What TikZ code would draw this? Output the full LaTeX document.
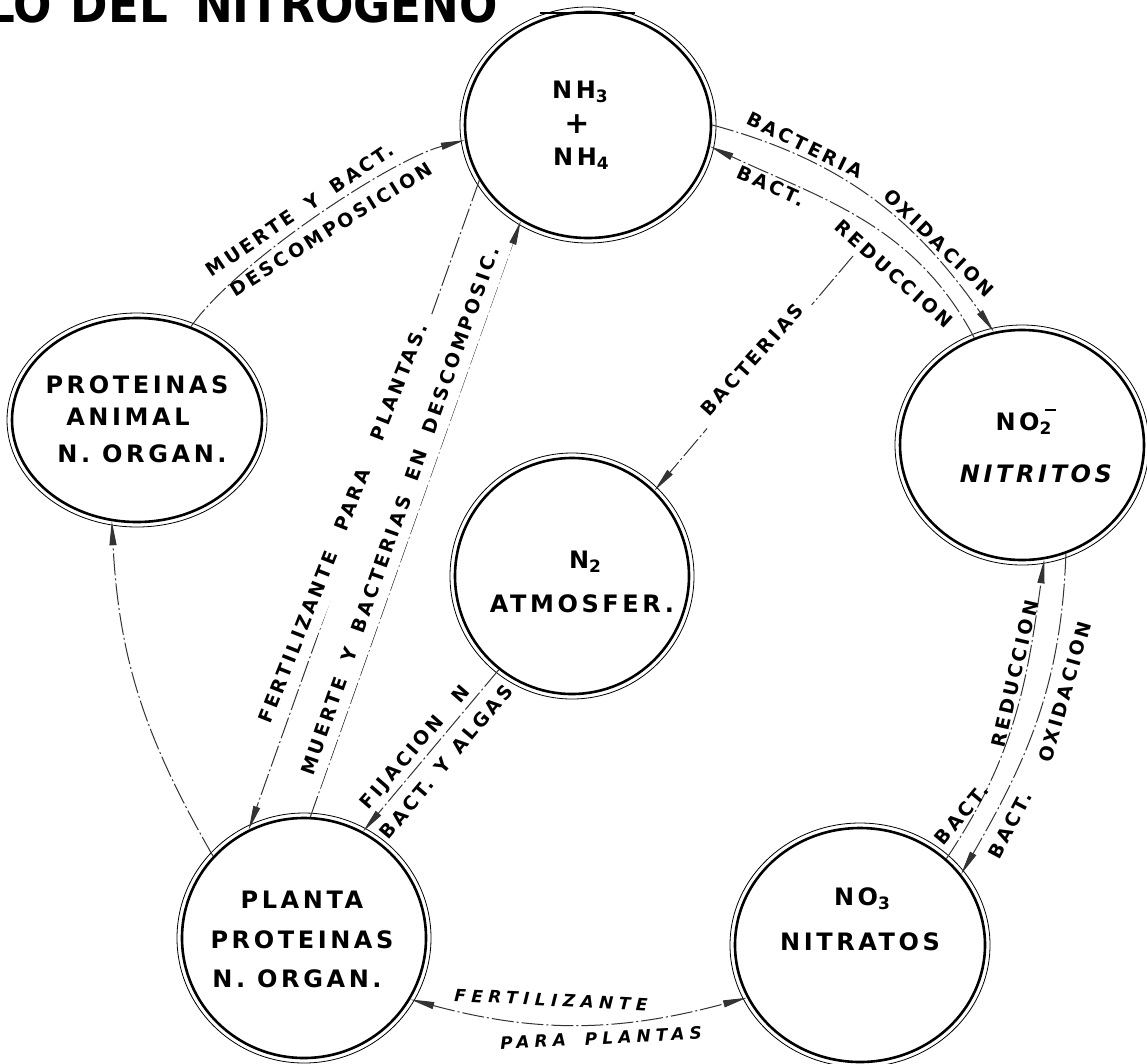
\documentclass[tikz,border=0pt]{standalone}
\usepackage{fontspec}
\setmainfont{DejaVu Sans}
\newfontfamily\LF{DejaVu Sans}[UprightFont=* Bold, ItalicFont=* Bold Oblique]
\usetikzlibrary{arrows.meta,shapes.geometric}
\newcommand\lsf[3]{\LF\fontsize{#1pt}{#1pt}\selectfont\addfontfeature{LetterSpace=#2}#3}
\newcommand\sbs[1]{\raisebox{-4pt}{\fontsize{17pt}{17pt}\selectfont#1}}
\newcommand\bubble[4]{%
  \node[bub, minimum width={2*#3pt}, minimum height={2*#4pt}] (#1) at (#2) {};
  \draw[ring] (#1.center) ellipse [x radius={#3pt+5pt}, y radius={#4pt+5pt}];}
\tikzset{
  bub/.style={ellipse, draw, line width=2.6pt, inner sep=0pt},
  ring/.style={line width=0.8pt},
  ct/.style={inner sep=0pt, anchor=base, font=\lsf{24}{15}{}},
  cl/.style={inner sep=1.5pt, font=\lsf{19}{16}{}},
  conn/.style={draw=black!80, line width=1pt, dash pattern=on 22pt off 3pt on 2pt off 3pt},
  >={Triangle[length=24pt,width=7pt]},
  ttl/.style={anchor=base east, inner sep=0pt, font=\LF\fontsize{43pt}{43pt}\selectfont},
}
\begin{document}
\begin{tikzpicture}[x=1pt, y=-1pt]
\useasboundingbox (0,0) rectangle (1147,1063);
\fill[white] (0,0) rectangle (1147,1063);
\clip (0,0) rectangle (1147,1063);

% title (cut off at the top)
\node[ttl] (t1) at (52,22) {\scalebox{1.05}[1.15]{CICLO}};
\node[ttl] (t2) at (168,22) {\scalebox{1.05}[1.15]{DEL}};
\node[ttl] (t3) at (498,22) {\scalebox{1.05}[1.15]{NITROGENO}};
\draw[line width=2.5pt] (540,13) -- (635,13);

% circles
\bubble{nh}{588,125}{123}{113}
\bubble{pa}{137,420}{125}{102}
\bubble{pl}{304,938}{122}{120}
\bubble{no}{1022,445}{122}{115}
\bubble{nt}{860,945}{125}{117}
\bubble{na}{572,576}{117}{118}

% circle texts
\node[ct] (nhA) at (580,98) {NH\sbs{3}};
\node[ct, anchor=center, font=\lsf{30}{0}{}] (nhB) at (577,124) {+};
\node[ct] (nhC) at (581,165) {NH\sbs{4}};
\node[ct] (paA) at (137,393) {PROTEINAS};
\node[ct] (paB) at (128,425) {ANIMAL};
\node[ct] (paC) at (142,462) {N. ORGAN.};
\node[ct] (plA) at (302,908) {PLANTA};
\node[ct] (plB) at (302,948) {PROTEINAS};
\node[ct] (plC) at (297,987) {N. ORGAN.};
\node[ct] (noA) at (1026,430) {NO\sbs{2}\hspace{-6pt}\raisebox{19pt}{\rule{11pt}{2.4pt}}};
\node[ct] (noB) at (1036,482) {\itshape NITRITOS};
\node[ct] (naA) at (585,568) {N\sbs{2}};
\node[ct] (naB) at (582,612) {ATMOSFER.};
\node[ct] (ntA) at (862,905) {NO\sbs{3}};
\node[ct] (ntB) at (860,950) {NITRATOS};

% connectors
\draw[conn,->] (pa.60) to[out=55,in=195,looseness=0.6] (nh.187);
\draw[conn,->] (nh.0) to[out=-15,in=125] (no.104);
\draw[conn,->] (no.114) to[out=118,in=-25] (nh.350);
\coordinate (bs) at (853,256);
\draw[conn,->] (bs) -- (na.46);
\draw[conn,->] (nh.207) -- (pl.117);
\draw[conn,->] (pl.87) -- (nh.235);
\draw[conn,->] (na.232) -- (pl.61);
\draw[conn,->] (pl.138) to[out=120,in=-87] (pa.256);
\draw[conn,->] (no.292) to[out=-92,in=60] (nt.35);
\draw[conn,->] (nt.45) to[out=56,in=-98] (no.281);
\draw[conn,<->] (pl.330) to[out=-15,in=195] (nt.205);

% connector labels
\node[cl, rotate=34] (l1) at (300,210) {MUERTE\hspace{7pt} Y\hspace{7pt} BACT.};
\node[cl, rotate=32] (l2) at (331,229) {DESCOMPOSICION};
\node[cl, rotate=-26] (l3) at (805,145) {BACTERIA};
\node[cl, rotate=-44] (l4) at (939,243) {OXIDACION};
\node[cl, rotate=-24] (l5) at (771,186) {BACT.};
\node[cl, rotate=-42] (l6) at (894,274) {REDUCCION};
\node[cl, rotate=48, fill=white, inner sep=9pt] (l7) at (752,360) {BACTERIAS};
\node[cl, rotate=68.5, fill=white, inner sep=10pt] (l8) at (343,523) {FERTILIZANTE\hspace{14pt} PARA\hspace{22pt} PLANTAS.};
\node[cl, rotate=70.5, fill=white, inner sep=10pt] (l9) at (400,511) {MUERTE\hspace{8pt} Y\hspace{8pt} BACTERIAS\hspace{8pt} EN\hspace{8pt} DESCOMPOSIC.};
\node[cl, rotate=49] (l10) at (416,748) {FIJACION\hspace{14pt} N};
\node[cl, rotate=50] (l11) at (446,762) {BACT.\hspace{3pt} Y\hspace{3pt} ALGAS};
\node[cl, rotate=50] (l12) at (962,814) {BACT.};
\node[cl, rotate=77] (l13) at (1015,674) {REDUCCION};
\node[cl, rotate=62] (l14) at (1010,825) {BACT.};
\node[cl, rotate=74] (l15) at (1065,692) {OXIDACION};
\node[cl, rotate=-3, font=\lsf{17}{32}{\itshape}] (l16) at (551,1000) {FERTILIZANTE};
\node[cl, rotate=3, font=\lsf{17}{30}{\itshape}] (l17) at (601,1038) {PARA\hspace{8pt} PLANTAS};
\end{tikzpicture}
\end{document}
